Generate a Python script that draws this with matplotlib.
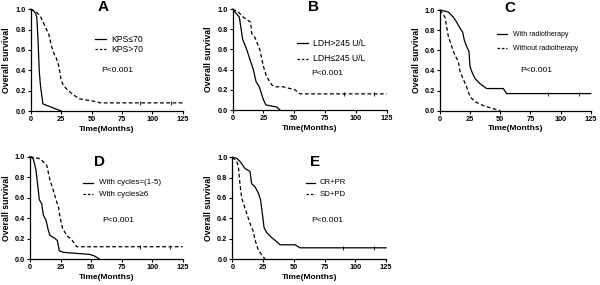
#!/usr/bin/env python3
import matplotlib
matplotlib.use('Agg')
import matplotlib.pyplot as plt

'''
Kaplan-Meier overall survival curves, panels A-E.
'''

# panel A: KPS
a_solid_t = [0, 2, 4, 5, 6, 7, 8, 10, 25]
a_solid_s = [1.0, 0.99, 0.96, 0.92, 0.70, 0.40, 0.25, 0.07, 0.0]
a_dash_t = [0, 5, 8, 10, 13, 15, 17, 19, 21, 23, 24, 25, 27, 30, 35, 40, 45, 50, 55, 57, 125]
a_dash_s = [1.0, 0.97, 0.93, 0.88, 0.80, 0.75, 0.64, 0.57, 0.52, 0.45, 0.38, 0.30, 0.25, 0.21,
            0.16, 0.12, 0.11, 0.10, 0.09, 0.08, 0.08]

# panel B: LDH
b_solid_t = [0, 5.4, 8.1, 11.4, 14, 16.8, 19, 21.6, 25, 27, 35.7, 38.4]
b_solid_s = [1.0, 0.92, 0.70, 0.60, 0.50, 0.40, 0.28, 0.23, 0.10, 0.05, 0.03, 0.0]
b_dash_t = [0, 4.6, 8.7, 14.6, 15.4, 18, 22, 25, 27.6, 31.7, 34.4, 41, 50.6, 54.7, 125]
b_dash_s = [1.0, 0.97, 0.92, 0.87, 0.76, 0.72, 0.60, 0.43, 0.33, 0.25, 0.23, 0.23, 0.20, 0.16, 0.16]

# panel C: radiotherapy
c_solid_t = [0, 6.9, 11, 13.8, 16.6, 18.8, 20.2, 22, 24, 24.9, 26.3, 29, 33, 38.7, 52.5, 55.3, 125]
c_solid_s = [1.0, 0.98, 0.93, 0.88, 0.82, 0.78, 0.70, 0.64, 0.59, 0.44, 0.39, 0.32, 0.27, 0.22,
             0.22, 0.17, 0.17]
c_dash_t = [0, 4.1, 6.9, 9.7, 12.4, 15.2, 16.6, 19.4, 22, 24.9, 29, 36, 44, 50]
c_dash_s = [1.0, 0.93, 0.74, 0.64, 0.55, 0.49, 0.39, 0.31, 0.24, 0.14, 0.09, 0.05, 0.02, 0.0]

# panel D: cycles
d_solid_t = [0, 2.7, 4.9, 6.8, 7.6, 9.6, 10.9, 13.1, 15, 16.4, 20.5, 22.4, 24, 27.3, 49, 52.7, 56.8]
d_solid_s = [1.0, 0.98, 0.87, 0.67, 0.58, 0.54, 0.43, 0.38, 0.28, 0.23, 0.20, 0.18, 0.08, 0.065,
             0.045, 0.03, 0.0]
d_dash_t = [0, 8.2, 10.9, 13.6, 16.4, 19.1, 21.3, 23.2, 24.6, 26.7, 30, 34.1, 38.2, 125]
d_dash_s = [1.0, 0.98, 0.95, 0.92, 0.77, 0.67, 0.58, 0.51, 0.41, 0.30, 0.23, 0.19, 0.12, 0.12]

# panel E: response
e_solid_t = [0, 3.5, 6.2, 10.3, 14.4, 15.7, 18.4, 21.1, 23, 24.7, 25.8, 27.9, 32, 36.1, 38.8, 51, 55, 125]
e_solid_s = [1.0, 0.99, 0.96, 0.89, 0.86, 0.74, 0.71, 0.65, 0.58, 0.42, 0.31, 0.26, 0.21, 0.17,
             0.14, 0.14, 0.11, 0.11]
e_dash_t = [0, 3.5, 4.9, 6.2, 7.6, 10.3, 14.4, 17.1, 18.4, 21.1, 23.9, 26.6]
e_dash_s = [1.0, 0.96, 0.91, 0.74, 0.60, 0.50, 0.35, 0.27, 0.19, 0.09, 0.04, 0.0]

censor_t = [90, 115]

plt.rcParams['font.family'] = ['Liberation Sans', 'DejaVu Sans']

# rect, letter, letter pos, curves, legend labels, legend geometry, legend size, P pos, plateau curve
panels = [
    ([0.0512, 0.6105, 0.2533, 0.357], 'A', (59.8, 1.02), (a_solid_t, a_solid_s), (a_dash_t, a_dash_s),
     ['KPS\u226470', 'KPS>70'], (53, 62, 66.6, 0.705, 0.607), 6.2, (58.4, 0.40), 'dash'),
    ([0.3878, 0.6140, 0.2567, 0.354], 'B', (65.5, 1.02), (b_solid_t, b_solid_s), (b_dash_t, b_dash_s),
     ['LDH>245 U/L', 'LDH\u2264245 U/L'], (52.5, 61.4, 65.5, 0.66, 0.51), 6.2, (64, 0.36), 'dash'),
    ([0.7333, 0.6116, 0.2512, 0.3533], 'C', (58, 1.02), (c_solid_t, c_solid_s), (c_dash_t, c_dash_s),
     ['With radiotherapy', 'Without radiotherapy'], (47, 55.3, 60.8, 0.76, 0.62), 5.0, (66.9, 0.40), 'solid'),
    ([0.0500, 0.0912, 0.2545, 0.359], 'D', (57.3, 0.95), (d_solid_t, d_solid_s), (d_dash_t, d_dash_s),
     ['With cycles=(1-5)', 'With cycles\u22656'], (43.7, 51.9, 56.8, 0.746, 0.635), 5.8, (59.2, 0.38), 'dash'),
    ([0.3872, 0.0912, 0.2562, 0.357], 'E', (67.2, 0.95), (e_solid_t, e_solid_s), (e_dash_t, e_dash_s),
     ['CR+PR', 'SD+PD'], (59.9, 67.2, 70.8, 0.75, 0.636), 5.6, (64.5, 0.38), 'solid'),
]

fig = plt.figure(figsize=(6, 2.85), dpi=100)

for rect, letter, lpos, solid, dash, labels, leg, lsize, ppos, plateau in panels:
    ax = fig.add_axes(rect)
    ax.plot(solid[0], solid[1], color='black', lw=0.9, clip_on=False)
    ax.plot(dash[0], dash[1], color='black', lw=0.9, ls=(0, (3, 2)), clip_on=False)
    # censored marks on the plateau
    src = dash if plateau == 'dash' else solid
    if src[1][-1] > 0:
        ax.plot(censor_t, [src[1][-1]] * len(censor_t), ls='none', marker='|',
                ms=2.5, mew=0.6, color='black')

    x0, x1, xt, y1, y2 = leg
    ax.plot([x0, x1], [y1, y1], color='black', lw=0.9)
    ax.plot([x0, x1], [y2, y2], color='black', lw=0.9, ls=(0, (2, 1.5)))
    ax.text(xt, y1, labels[0], fontsize=lsize, va='center', ha='left')
    ax.text(xt, y2, labels[1], fontsize=lsize, va='center', ha='left')
    ax.text(ppos[0], ppos[1], 'P<0.001', fontsize=6.1, va='center', ha='left')
    ax.text(lpos[0], lpos[1], letter, fontsize=11, fontweight='bold', ha='center', va='center')

    ax.set_xlim(0, 125)
    ax.set_ylim(0, 1.0)
    ax.set_xticks([0, 25, 50, 75, 100, 125])
    ax.set_yticks([0.0, 0.2, 0.4, 0.6, 0.8, 1.0])
    ax.set_yticklabels(['0.0', '0.2', '0.4', '0.6', '0.8', '1.0'])
    for lab in ax.get_xticklabels() + ax.get_yticklabels():
        lab.set_fontweight('bold')
    ax.tick_params(axis='both', which='both', length=2, width=0.8, labelsize=5.3, pad=1.5)
    ax.spines['top'].set_visible(False)
    ax.spines['right'].set_visible(False)
    ax.spines['left'].set_linewidth(0.9)
    ax.spines['bottom'].set_linewidth(0.9)
    ax.set_xlabel('Time(Months)', fontsize=6, fontweight='bold', labelpad=2)
    ax.set_ylabel('Overall survival', fontsize=6.3, fontweight='bold', labelpad=3)

fig.savefig('out.png', dpi=100)
